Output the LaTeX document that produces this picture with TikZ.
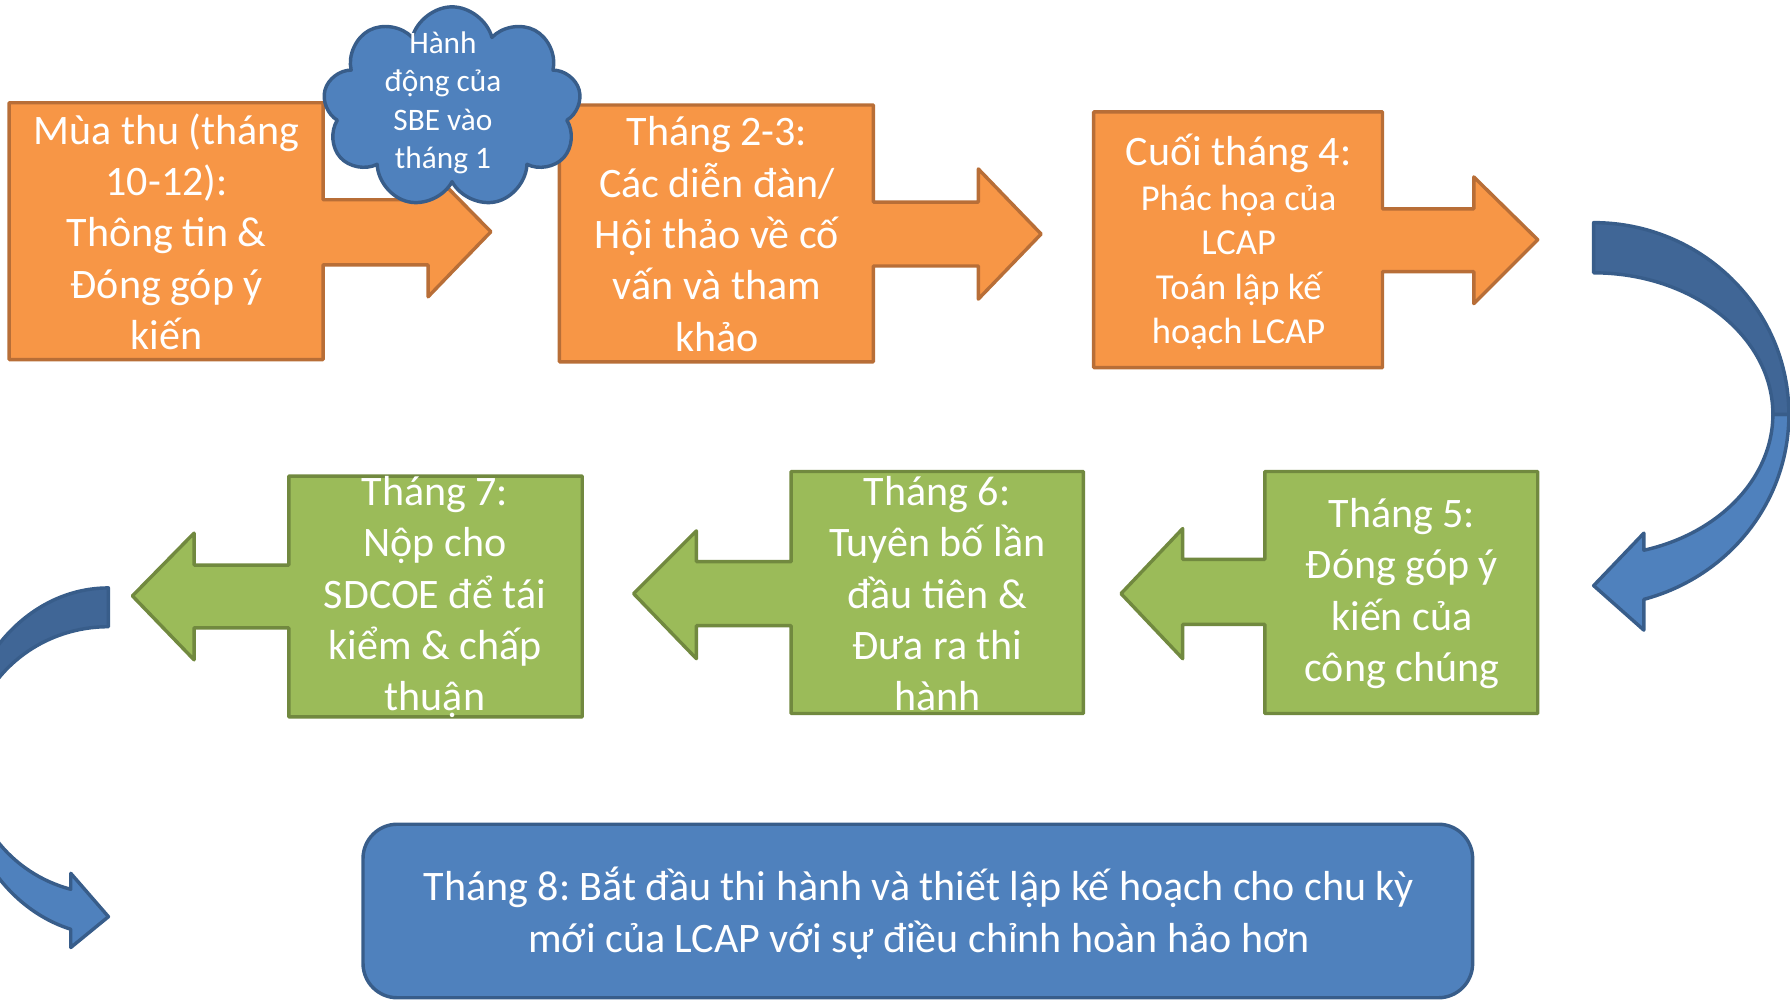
\documentclass[tikz,border=0pt]{standalone}
\usepackage{fontspec}
\setmainfont{Carlito}
\frenchspacing
\usetikzlibrary{shapes.symbols}
\definecolor{orangefill}{HTML}{F79646}
\definecolor{orangeline}{HTML}{B86E37}
\definecolor{greenfill}{HTML}{9BBB59}
\definecolor{greenline}{HTML}{71893F}
\definecolor{bluefill}{HTML}{4F81BD}
\definecolor{blueline}{HTML}{385D8A}
\definecolor{bluedeep}{HTML}{406696}

\begin{document}
\begin{tikzpicture}[x=0.5pt,y=-0.5pt,line join=round,
  orangebox/.style={draw=orangeline,fill=orangefill,line width=1.5pt},
  greenbox/.style={draw=greenline,fill=greenfill,line width=1.5pt},
  bluebox/.style={draw=blueline,fill=bluefill,line width=1.5pt},
  deepbox/.style={draw=blueline,fill=bluedeep,line width=1.5pt},
  steptext/.style={text=white,align=center,inner sep=0pt,font=\fontsize{18.4}{22.5}\selectfont},
  smalltext/.style={steptext,font=\fontsize{16}{19.5}\selectfont},
  cloudtext/.style={steptext,font=\fontsize{13.7}{16.75}\selectfont}]
\clip (0,0) rectangle (1568,877);

% first row
\draw [orangebox] (8,90) -- (283,90) -- (283,175) -- (375,175) -- (375,147) -- (430,203) -- (375,260) -- (375,232) -- (283,232) -- (283,315) -- (8,315) -- cycle;
\node [steptext] (fall) at (146,203) {Mùa thu (tháng\\10-12):\\Thông tin \&\\Đóng góp ý\\kiến};

\draw [orangebox] (490,92) -- (765,92) -- (765,177) -- (857,177) -- (857,148) -- (912,205) -- (857,262) -- (857,233) -- (765,233) -- (765,317) -- (490,317) -- cycle;
\node [steptext] (febmar) at (628,205) {Tháng 2-3:\\Các diễn đàn/\\Hội thảo về cố\\vấn và tham\\khảo};

\draw [orangebox] (958,98) -- (1211,98) -- (1211,183) -- (1291,183) -- (1291,155) -- (1347,210) -- (1291,266) -- (1291,238) -- (1211,238) -- (1211,322) -- (958,322) -- cycle;
\node [smalltext] (april) at (1085,212) {{\fontsize{18.4}{22.5}\selectfont Cuối tháng 4:}\\Phác họa của\\LCAP\\Toán lập kế\\hoạch LCAP};

% turn down on the right
\draw [bluebox] (1567,363) .. controls (1567,439) and (1515,505) .. (1440,525) -- (1440,552) -- (1396,513) -- (1440,467) -- (1440,482) .. controls (1507,467) and (1553,418) .. (1553,363) -- cycle;
\draw [deepbox] (1396,195) .. controls (1490,195) and (1567,270) .. (1567,363) -- (1553,363) .. controls (1553,295) and (1483,239) .. (1396,239) -- cycle;

% second row
\draw [greenbox] (1347,413) -- (1108,413) -- (1108,490) -- (1036,490) -- (1036,463) -- (982,520) -- (1036,577) -- (1036,547) -- (1108,547) -- (1108,625) -- (1347,625) -- cycle;
\node [steptext] (may) at (1228,520) {Tháng 5:\\Đóng góp ý\\kiến của\\công chúng};

\draw [greenbox] (949,413) -- (693,413) -- (693,492) -- (610,492) -- (610,465) -- (555,520) -- (610,577) -- (610,548) -- (693,548) -- (693,625) -- (949,625) -- cycle;
\node [steptext] (june) at (821,520) {Tháng 6:\\Tuyên bố lần\\đầu tiên \&\\Đưa ra thi\\hành};

\draw [greenbox] (510,417) -- (253,417) -- (253,495) -- (170,495) -- (170,467) -- (116,522) -- (170,578) -- (170,550) -- (253,550) -- (253,628) -- (510,628) -- cycle;
\node [steptext] (july) at (381,523) {Tháng 7:\\Nộp cho\\SDCOE để tái\\kiểm \& chấp\\thuận};

% turn down on the left
\draw [bluebox] (-35,667) .. controls (-35,736) and (5,796) .. (62,814) -- (62,830) -- (95,803) -- (62,765) -- (62,779) .. controls (9,765) and (-27,718) .. (-27,666) -- cycle;
\draw [deepbox] (95,515) .. controls (23,515) and (-35,583) .. (-35,667) -- (-27,666) .. controls (-27,601) and (28,549) .. (95,549) -- cycle;

% last step
\draw [bluebox,rounded corners=15pt] (318,722) rectangle (1290,874);
\node [steptext] (august) at (805,800) {Tháng 8: Bắt đầu thi hành và thiết lập kế hoạch cho chu kỳ\\mới của LCAP với sự điều chỉnh hoàn hảo hơn};

% SBE cloud
\node [cloud,cloud puffs=9,aspect=1.25,bluebox,minimum width=113pt,minimum height=88pt] (sbe) at (396,94) {};
\node [cloudtext] (sbetext) at (388,90) {Hành\\động của\\SBE vào\\tháng 1};
\end{tikzpicture}
\end{document}
